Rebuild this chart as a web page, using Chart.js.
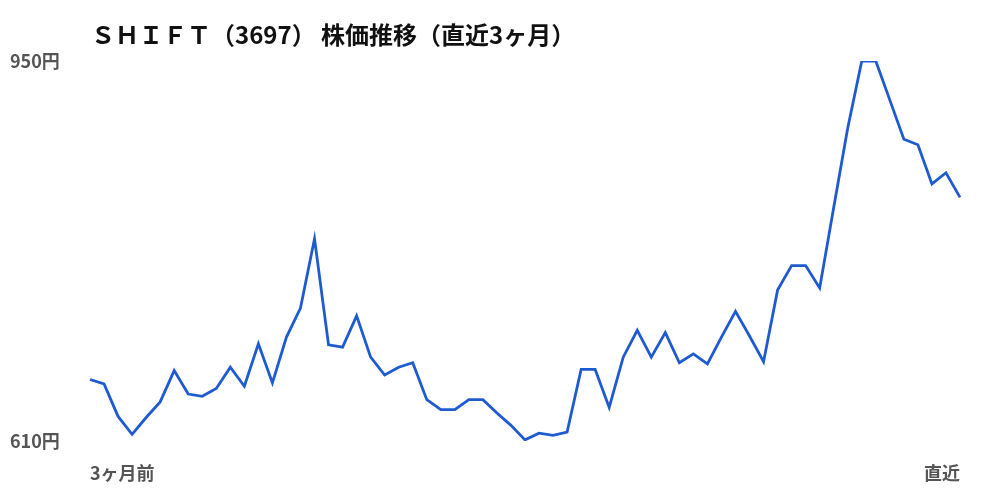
<!DOCTYPE html>
<html lang="ja">
<head>
<meta charset="utf-8">
<script src="https://cdn.jsdelivr.net/npm/chart.js@4.4.1/dist/chart.umd.min.js"></script>
<style>
  html, body { margin: 0; padding: 0; background: #fff; }
  #wrap { width: 1000px; height: 500px; }
</style>
</head>
<body>
<div id="wrap"><canvas id="priceChart"></canvas></div>
<script>
const chartTitle = 'ＳＨＩＦＴ（3697） 株価推移（直近3ヶ月）';
const startLabel = '3ヶ月前';
const endLabel = '直近';
const yTicks = [610, 950];

// daily close, oldest first
const prices = [
  665, 661, 632, 616, 631, 645, 673, 652, 650, 657,
  676, 659, 697, 662, 703, 729, 791, 696, 694, 722,
  685, 669, 676, 680, 647, 638, 638, 647, 647, 635,
  624, 611, 617, 615, 618, 674, 674, 640, 685, 709,
  685, 707, 680, 688, 679, 703, 726, 704, 681, 745,
  767, 767, 747, 819, 890, 950, 950, 915, 880, 875,
  840, 850, 828
];

// only the first and last day carry a label
const days = prices.map((_, i) =>
  i === 0 ? startLabel : (i === prices.length - 1 ? endLabel : ''));

const labelFont = { family: '"Noto Sans CJK JP", "Noto Sans", sans-serif', size: 18, weight: 'bold' };

// title drawn just right of the plot's left edge
const titlePlugin = {
  id: 'leftTitle',
  afterDraw(chart) {
    const ctx = chart.ctx;
    ctx.save();
    ctx.font = 'bold 24px "Noto Sans CJK JP", "Noto Sans", sans-serif';
    ctx.fillStyle = '#111';
    ctx.textBaseline = 'middle';
    ctx.fillText(chartTitle, chart.chartArea.left + 1, 35);
    ctx.restore();
  }
};

new Chart(document.getElementById('priceChart'), {
  type: 'line',
  data: {
    labels: days,
    datasets: [{
      data: prices,
      borderColor: '#1f5bd0',
      borderWidth: 2.8,
      pointRadius: 0,
      tension: 0,
      fill: false
    }]
  },
  options: {
    responsive: true,
    maintainAspectRatio: false,
    animation: false,
    layout: { padding: { left: 10, top: 61, right: 40, bottom: 14 } },
    plugins: {
      legend: { display: false },
      tooltip: { enabled: false }
    },
    scales: {
      x: {
        grid: { display: false, drawTicks: false },
        border: { display: false },
        afterFit: (scale) => { scale.height = 45; },
        ticks: {
          autoSkip: false,
          maxRotation: 0,
          align: 'inner',
          padding: 21,
          color: '#555',
          font: labelFont
        }
      },
      y: {
        min: yTicks[0],
        max: yTicks[yTicks.length - 1],
        afterBuildTicks: (scale) => { scale.ticks = yTicks.map(v => ({ value: v })); },
        afterFit: (scale) => { scale.width = 80; },
        grid: { display: false, drawTicks: false },
        border: { display: false },
        ticks: {
          crossAlign: 'far',
          padding: 0,
          color: '#555',
          font: labelFont,
          callback: (v) => v + '円'
        }
      }
    }
  },
  plugins: [titlePlugin]
});
</script>
</body>
</html>
